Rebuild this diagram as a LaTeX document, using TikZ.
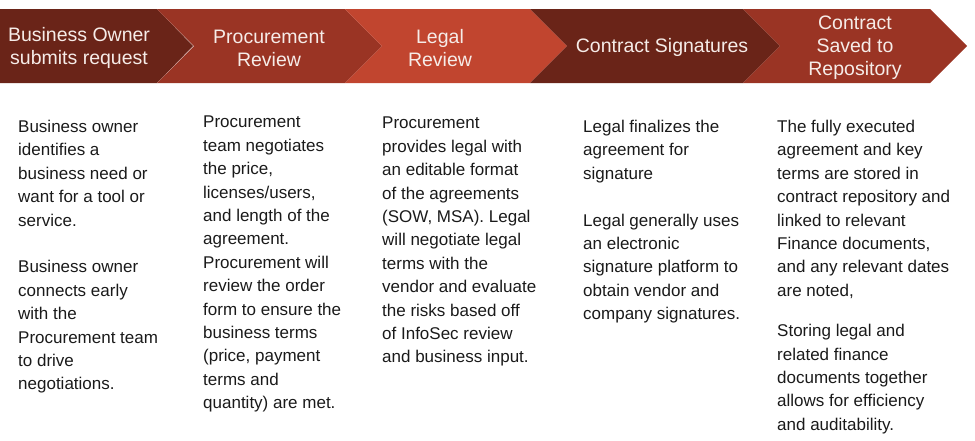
\documentclass[tikz,border=0pt]{standalone}
\usepackage{fontspec}
\setmainfont{Liberation Sans}

\definecolor{chevdark}{HTML}{6A2418}
\definecolor{chevmid}{HTML}{9A3424}
\definecolor{chevlight}{HTML}{C1452F}
\definecolor{headtext}{HTML}{F6ECE8}
\definecolor{bodytext}{HTML}{1A1A1A}

\tikzset{
  chevron/.style={fill=#1, draw=none},
  head/.style={text=headtext, align=center, inner sep=0pt,
    font=\fontsize{19.5}{23}\selectfont},
  body/.style={anchor=north west, inner sep=0pt, align=left, text=bodytext,
    font=\fontsize{17}{23.4}\selectfont}
}

\begin{document}
\begin{tikzpicture}[x=1pt,y=-1pt]
    \useasboundingbox (0,0) rectangle (975,440);

    % chevron band
    \fill[chevron=chevdark] (0,9) -- (157,9) -- (193,46) -- (157,83) -- (0,83) -- cycle;
    \foreach \a/\b/\c in {157/345/chevmid,345/530/chevlight,530/743/chevdark,743/930/chevmid}{
        \fill[chevron=\c] (\a,9) -- (\b,9) -- (\b+37,46) -- (\b,83) -- (\a,83) -- (\a+37,46) -- cycle;
      }

    % step titles
    \node[head] (owner) at (79,48) {Business Owner\\submits request};
    \node[head] (procure) at (269,48) {Procurement\\Review};
    \node[head] (legal) at (440,48) {Legal\\Review};
    \node[head] (sign) at (662,47.5) {Contract Signatures};
    \node[head] (repo) at (855,47.5) {Contract\\Saved to\\Repository};

    % step descriptions
    \node[body] (ownertxt) at (18,120) {Business owner\\identifies a\\business need or\\want for a tool or\\service.\\[23.4pt]
      Business owner\\connects early\\with the\\Procurement team\\to drive\\negotiations.};
    \node[body] (procuretxt) at (203,116) {Procurement\\team negotiates\\the price,\\licenses/users,\\and length of the\\agreement.\\
      Procurement will\\review the order\\form to ensure the\\business terms\\(price, payment\\terms and\\quantity) are met.};
    \node[body] (legaltxt) at (382,117) {Procurement\\provides legal with\\an editable format\\of the agreements\\(SOW, MSA). Legal\\will negotiate legal\\terms with the\\vendor and evaluate\\the risks based off\\of InfoSec review\\and business input.};
    \node[body] (signtxt) at (583,120) {Legal finalizes the\\agreement for\\signature\\[23.4pt]
      Legal generally uses\\an electronic\\signature platform to\\obtain vendor and\\company signatures.};
    \node[body] (repotxt) at (777,120) {The fully executed\\agreement and key\\terms are stored in\\contract repository and\\linked to relevant\\Finance documents,\\and any relevant dates\\are noted,\\[17pt]
      Storing legal and\\related finance\\documents together\\allows for efficiency\\and auditability.};
  \end{tikzpicture}
\end{document}
